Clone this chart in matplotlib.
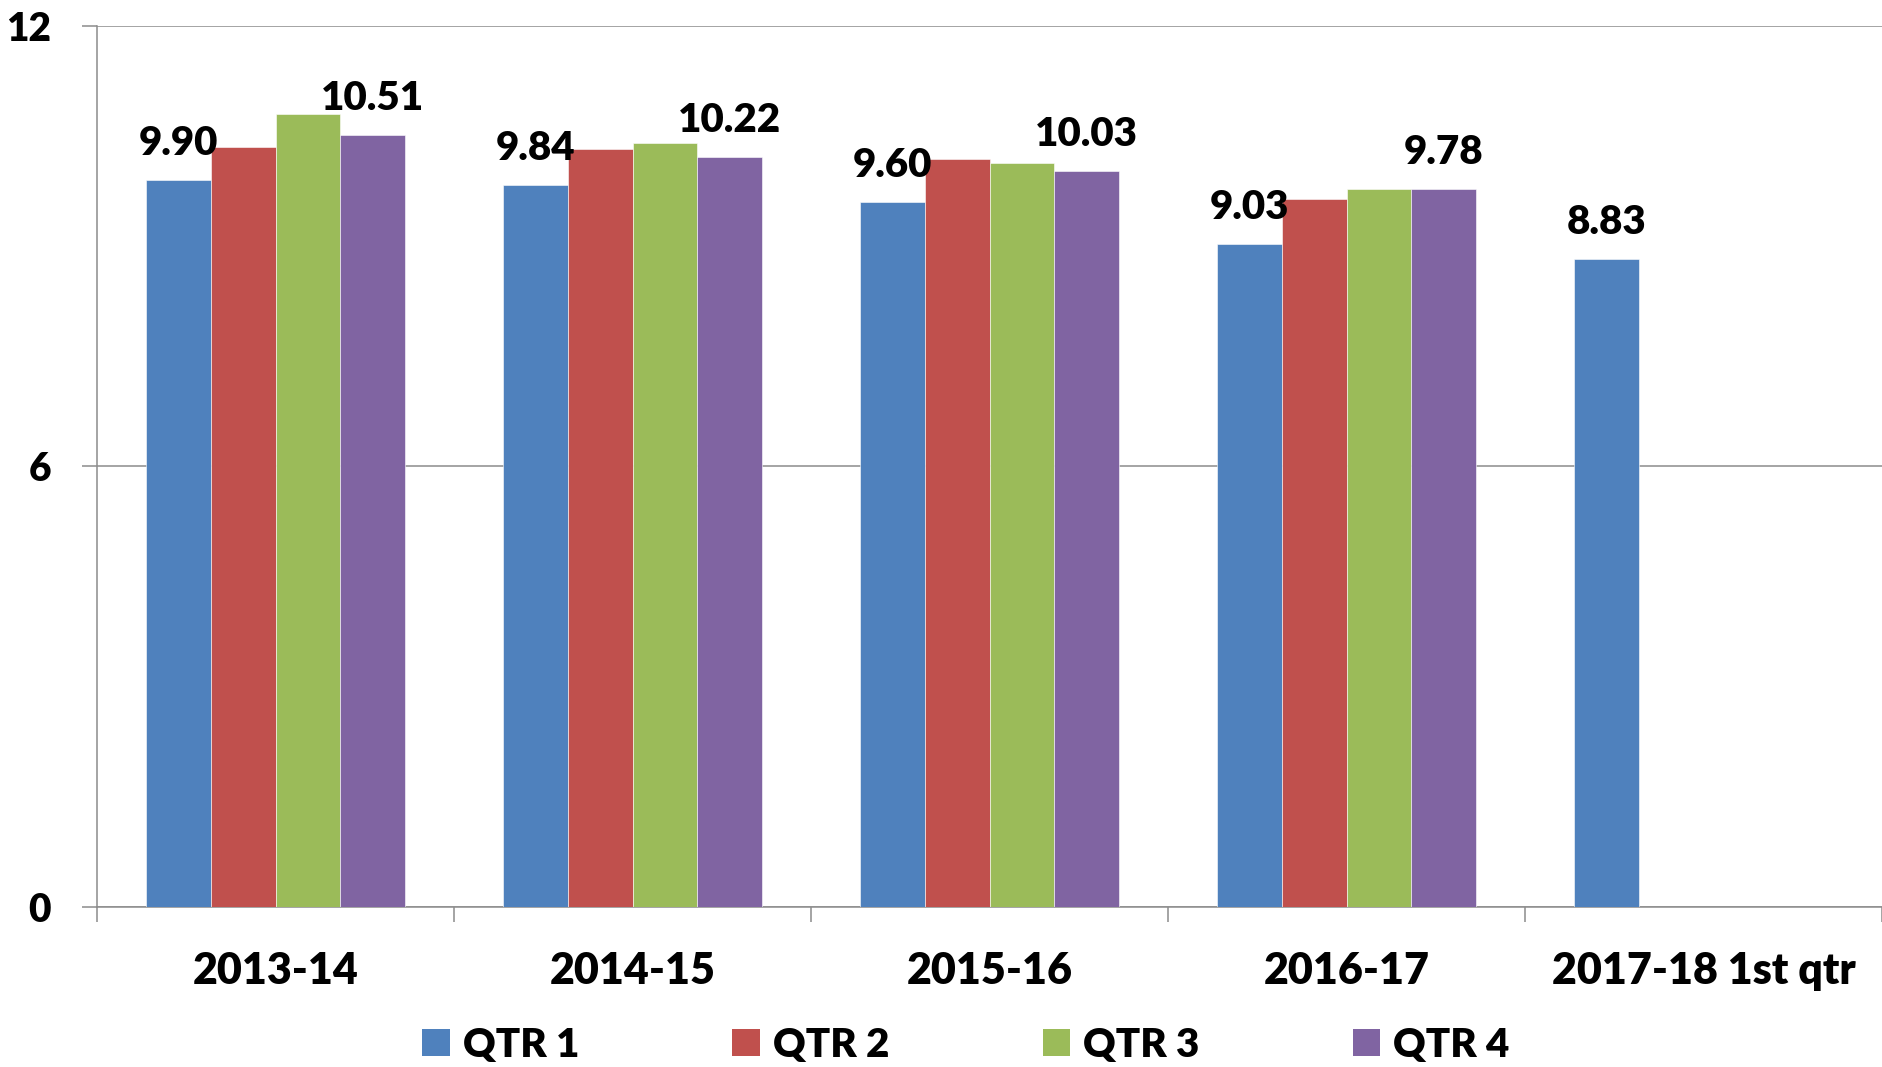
import numpy as np
import matplotlib
matplotlib.use("Agg")
import matplotlib.pyplot as plt
from matplotlib.patches import Patch

plt.rcParams["font.family"] = ["Lato", "DejaVu Sans"]
plt.rcParams["font.weight"] = "heavy"

# 数据
years = ["2013-14", "2014-15", "2015-16", "2016-17", "2017-18 1st qtr"]
series = ["QTR 1", "QTR 2", "QTR 3", "QTR 4"]
qtr1 = [9.90, 9.84, 9.60, 9.03, 8.83]
qtr2 = [10.35, 10.33, 10.19, 9.64, np.nan]
qtr3 = [10.80, 10.40, 10.13, 9.78, np.nan]
qtr4 = [10.51, 10.22, 10.03, 9.78, np.nan]
colors = ["#4F81BD", "#C0504D", "#9BBB59", "#8064A2"]

W, H = 1882, 1067
fig = plt.figure(figsize=(W / 100, H / 100), dpi=100)
ax = fig.add_axes([97 / W, 1 - 906.7 / H, (W - 97) / W, (906.7 - 26) / H])

x = np.arange(len(years))
bw = 0.181
vals = [qtr1, qtr2, qtr3, qtr4]
for i, (v, c) in enumerate(zip(vals, colors)):
    ax.bar(x + (i - 1.5) * bw, v, bw, color=c, edgecolor="white",
           linewidth=0.4, zorder=3)

# 数据标签 (只标 QTR 1 和 QTR 4)
for i in [0, 3]:
    for xi, v in zip(x, vals[i]):
        if np.isnan(v):
            continue
        ax.annotate(f"{v:.2f}", (xi + (i - 1.5) * bw, v), xytext=(0, 18),
                    textcoords="offset points", ha="center", va="baseline",
                    fontsize=29, fontweight="heavy", color="black")

ax.set_xlim(-0.5, -0.5 + (W - 97) / 358.5)
ax.set_ylim(0, 12)
ax.set_yticks([0, 6, 12])
ax.set_yticklabels(["0", "6", "12"], fontsize=28, fontweight="heavy")
ax.yaxis.grid(True, color="#8C8C8C", linewidth=1.1, zorder=0)
ax.set_axisbelow(True)

ax.set_xticks(x)
ax.set_xticklabels(years, fontsize=31, fontweight="heavy")
ax.set_xticks(np.arange(-0.5, 4.6, 1.0), minor=True)
ax.tick_params(axis="x", which="major", length=0, pad=32)
ax.tick_params(axis="x", which="minor", length=11, color="#8C8C8C", width=1.1)
ax.tick_params(axis="y", length=11, color="#8C8C8C", width=1.1, pad=22)

for s in ["top", "right"]:
    ax.spines[s].set_visible(False)
for s in ["left", "bottom"]:
    ax.spines[s].set_color("#8C8C8C")
    ax.spines[s].set_linewidth(1.1)

handles = [Patch(facecolor=c, edgecolor="none") for c in colors]
fig.legend(handles, series, loc="center", bbox_to_anchor=(966 / W, 1 - 1045 / H),
           ncol=4, frameon=False, prop={"size": 29, "weight": "heavy"},
           handlelength=0.68, handleheight=0.68, handletextpad=0.33,
           columnspacing=3.8)

fig.savefig("out.png", dpi=100)
